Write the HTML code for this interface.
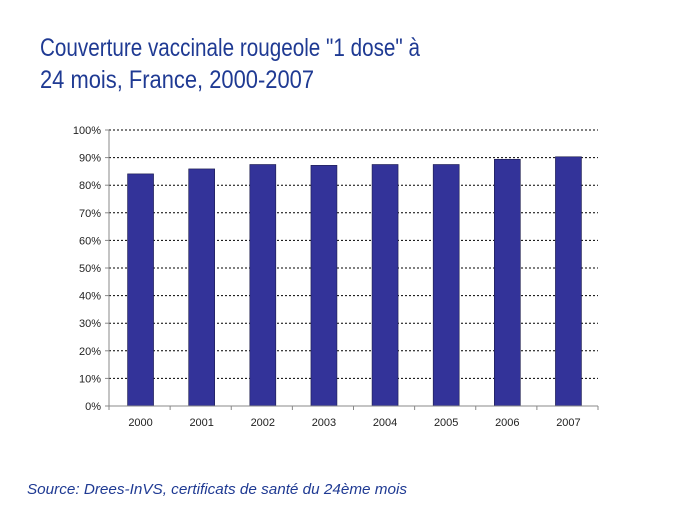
<!DOCTYPE html>
<html><head><meta charset="utf-8"><style>
body{margin:0;background:#fff;width:689px;height:517px;overflow:hidden;font-family:"Liberation Sans",sans-serif}
</style></head><body>
<svg width="689" height="517">
<text x="40" y="56" font-size="25" fill="#1f3a93" textLength="380" lengthAdjust="spacingAndGlyphs">Couverture vaccinale rougeole "1 dose" à</text>
<text x="40" y="88" font-size="25" fill="#1f3a93" textLength="274" lengthAdjust="spacingAndGlyphs">24 mois, France, 2000-2007</text>
<g id="plot"></g>
<text x="27" y="494" font-size="15" font-style="italic" fill="#1f3a93" textLength="380" lengthAdjust="spacingAndGlyphs">Source: Drees-InVS, certificats de santé du 24ème mois</text>
</svg>
<script>
const categories=["2000","2001","2002","2003","2004","2005","2006","2007"];
const values=[84.1,85.9,87.5,87.2,87.5,87.5,89.4,90.3];
const yTicks=[0,10,20,30,40,50,60,70,80,90,100];
const NS="http://www.w3.org/2000/svg",g=document.getElementById("plot");
const x0=109,x1=598,yb=406,yt=130;
const y=v=>yb-(v/100)*(yb-yt);
const bw=(x1-x0)/categories.length;
const xc=i=>x0+bw*(i+0.5)+1;
function mk(t,a){const e=document.createElementNS(NS,t);for(const k in a)e.setAttribute(k,a[k]);g.appendChild(e);return e;}
yTicks.forEach(v=>{
 if(v>0){const l=mk("line",{x1:x0,x2:x1,y1:y(v),y2:y(v),stroke:"#000","stroke-width":1,"stroke-dasharray":"2,2"});
 
 }
 const tk=mk("line",{x1:x0-4,x2:x0,y1:y(v),y2:y(v),stroke:"#888"});
 
 
 const t=mk("text",{x:x0-8,y:y(v)+4,"font-size":11,"text-anchor":"end",fill:"#222"});t.textContent=v+"%";
 
 
});
categories.forEach((c,i)=>{
 const r=mk("rect",{x:xc(i)-13,y:y(values[i]),width:26,height:yb-y(values[i]),fill:"#333399",stroke:"#1a1a4a","stroke-width":0.6});
 
 
 const t=mk("text",{x:xc(i),y:426,"font-size":11,"text-anchor":"middle",fill:"#222"});t.textContent=c;
 
 
});
for(let i=0;i<=categories.length;i++){const tk=mk("line",{x1:x0+bw*i,x2:x0+bw*i,y1:yb,y2:yb+4,stroke:"#888"});
 
 }
const ya=mk("line",{x1:x0,x2:x0,y1:yt,y2:yb,stroke:"#888"});


const xa=mk("line",{x1:x0,x2:x1,y1:yb,y2:yb,stroke:"#888"});


</script>
</body></html>
